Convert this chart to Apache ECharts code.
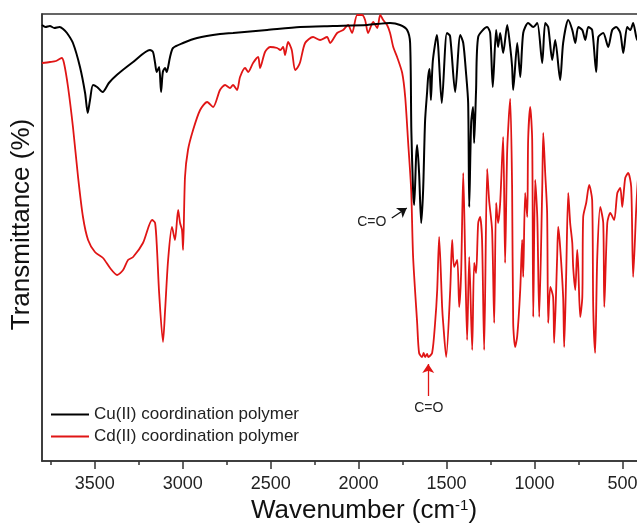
<!DOCTYPE html>
<html>
<head>
<meta charset="utf-8">
<script src="https://cdn.jsdelivr.net/npm/echarts@6/dist/echarts.min.js"></script>
<style>html,body{margin:0;padding:0;background:#fff}#c{width:637px;height:525px}</style>
</head>
<body>
<div id="c"></div>
<script>
// Wavenumber ticks (cm^-1)
const majorTicks = [3500, 3000, 2500, 2000, 1500, 1000, 500];
const minorTicks = [3750, 3250, 2750, 2250, 1750, 1250, 750];

// Cu(II) coordination polymer (black)
const cuWavenumber = [3800,3780,3755,3730,3700,3680,3658,3624,3584,3555,3540,3527,3510,3487,3455,3420,3375,3282,3186,3169,3157,3148,3134,3123,3113,3100,3091,3072,3055,2998,2918,2788,2714,2520,2332,2145,1951,1821,1764,1724,1707,1700,1690,1684,1673,1667,1656,1644,1633,1622,1610,1604,1596,1589,1578,1555,1527,1498,1480,1451,1422,1405,1390,1377,1371,1360,1349,1343,1332,1320,1269,1252,1237,1218,1207,1195,1178,1155,1138,1127,1121,1098,1081,1064,1036,1007,984,956,939,922,899,882,854,837,808,785,768,751,728,711,694,672,649,637,609,581,558,535,512,495,473,455,439,416,400];
const cuTransmittance = [436,434,435,433,434,432,428,418,394,368,348,361,376,374,369,378,386,399,411,409,398,389,394,369,389,393,389,404,413,418,423,427,428,431,434,435,436,438,436,431,418,330,270,256,304,316,288,238,271,340,370,385,392,361,400,426,358,428,425,369,426,418,390,358,254,338,354,318,371,424,434,428,374,431,414,428,408,436,414,394,371,418,384,428,438,434,438,398,438,434,401,421,381,418,441,431,418,434,431,421,434,431,389,424,428,414,431,434,428,408,434,431,438,421,430];

// Cd(II) coordination polymer (red)
const cdWavenumber = [3800,3755,3720,3688,3675,3652,3624,3595,3567,3538,3499,3453,3413,3373,3339,3311,3282,3226,3174,3157,3146,3134,3112,3100,3083,3061,3044,3026,3015,3004,2998,2987,2970,2941,2901,2861,2827,2788,2759,2731,2714,2691,2674,2645,2628,2600,2571,2560,2532,2503,2463,2445,2429,2418,2401,2380,2361,2345,2332,2304,2259,2219,2179,2162,2122,2088,2060,2037,2008,1980,1963,1946,1917,1894,1877,1860,1838,1821,1803,1781,1752,1735,1718,1701,1690,1667,1656,1639,1630,1622,1610,1604,1582,1565,1553,1542,1525,1519,1502,1479,1468,1457,1439,1428,1417,1405,1394,1383,1371,1354,1343,1332,1320,1309,1298,1286,1269,1258,1241,1229,1218,1207,1195,1178,1167,1155,1138,1127,1121,1110,1098,1081,1070,1064,1053,1041,1036,1024,1013,1007,996,984,973,956,950,939,928,922,910,894,888,871,865,854,837,831,820,808,797,785,780,768,757,751,740,728,723,706,689,672,666,655,643,626,609,603,586,569,547,529,512,501,484,467,450,439,421,410,400];
const cdTransmittance = [398,399,400,403,398,374,334,284,244,221,209,203,193,186,191,201,204,218,241,238,211,168,119,151,201,234,221,251,238,231,211,284,311,331,351,359,354,371,376,373,376,371,384,393,389,398,404,393,409,414,413,411,414,406,419,411,391,394,399,418,424,421,424,418,428,431,436,428,446,446,441,428,439,433,446,441,436,428,414,404,388,364,318,271,204,138,108,104,108,104,107,104,108,138,171,224,154,138,104,171,221,194,201,154,188,288,204,121,204,111,198,188,238,244,221,111,292,261,231,138,258,238,258,324,198,311,362,271,138,114,125,171,221,184,268,244,321,354,321,144,281,244,144,271,328,288,248,138,174,164,118,204,234,214,164,114,184,268,238,218,194,171,211,194,144,164,244,258,276,261,154,108,204,254,238,154,238,248,241,268,273,254,283,288,274,184,254,285,290];

// Annotations: [wavenumber, transmittance]
const cuLabelAt = [1925, 239];
const cuArrow = [[1811, 243], [1726, 253]];
const cdLabelAt = [1601, 53];
const cdArrow = [[1604, 65], [1604, 97]];

const FONT = '"Liberation Sans", Arial, sans-serif';
const zip = (a, b) => a.map((x, i) => [x, b[i]]);

const chart = echarts.init(document.getElementById('c'), null, {renderer: 'canvas'});
chart.setOption({
  animation: false,
  backgroundColor: '#fff',
  textStyle: {fontFamily: FONT},
  grid: {left: 42, right: -3, top: 14, bottom: 64, show: true, borderColor: '#333', borderWidth: 1.5,
         containLabel: false, outerBoundsMode: 'none'},
  legend: {
    orient: 'vertical', left: 46, top: 401, itemWidth: 38, itemHeight: 2, itemGap: 5, icon: 'rect',
    textStyle: {fontSize: 17, color: '#222', fontFamily: FONT},
    data: ['Cu(II) coordination polymer', 'Cd(II) coordination polymer']
  },
  xAxis: [{
    type: 'value', inverse: true, min: 400, max: 3800,
    name: '{a|Wavenumber (cm}{s|-1}{a|)}', nameLocation: 'middle', nameGap: 37,
    nameTextStyle: {fontSize: 26, color: '#111', fontFamily: FONT, padding: [0, 0, 0, 46],
      rich: {a: {fontSize: 26, color: '#111', fontFamily: FONT}, s: {fontSize: 15, color: '#111', verticalAlign: 'top', fontFamily: FONT}}},
    axisLine: {show: true, lineStyle: {color: '#333', width: 1.5}},
    axisTick: {show: true, inside: false, length: 8, customValues: majorTicks, lineStyle: {color: '#333', width: 1.5}},
    axisLabel: {show: true, customValues: majorTicks, margin: 14, fontSize: 18, color: '#222', fontFamily: FONT,
      formatter: v => String(v)},
    splitLine: {show: false}
  }, {
    type: 'value', inverse: true, min: 400, max: 3800, position: 'bottom',
    axisLine: {show: false},
    axisTick: {show: true, inside: false, length: 4, customValues: minorTicks, lineStyle: {color: '#333', width: 1.5}},
    axisLabel: {show: false},
    splitLine: {show: false}
  }],
  yAxis: {
    type: 'value', min: 0, max: 447,
    name: 'Transmittance (%)', nameLocation: 'middle', nameGap: 7,
    nameTextStyle: {fontSize: 26, color: '#111', fontFamily: FONT, padding: [0, 0, 0, 26]},
    axisLine: {show: true, lineStyle: {color: '#333', width: 1.5}},
    axisTick: {show: false}, axisLabel: {show: false}, splitLine: {show: false}
  },
  series: [{
    name: 'Cu(II) coordination polymer', type: 'line', xAxisIndex: 0,
    data: zip(cuWavenumber, cuTransmittance), symbol: 'none', smooth: 0.25,
    lineStyle: {color: '#000', width: 2}, itemStyle: {color: '#000'}, z: 3,
    markPoint: {
      symbol: 'circle', symbolSize: 1, itemStyle: {color: 'rgba(0,0,0,0)'},
      label: {show: true, position: 'inside', formatter: '{b}', fontSize: 14, color: '#222', fontFamily: FONT},
      data: [{name: 'C=O', coord: cuLabelAt}]
    },
    markLine: {
      silent: true, symbol: ['none', 'arrow'], symbolSize: 9,
      lineStyle: {color: '#111', width: 1.3, type: 'solid'}, label: {show: false},
      data: [[{coord: cuArrow[0]}, {coord: cuArrow[1]}]]
    }
  }, {
    name: 'Cd(II) coordination polymer', type: 'line', xAxisIndex: 0,
    data: zip(cdWavenumber, cdTransmittance), symbol: 'none', smooth: 0.25,
    lineStyle: {color: '#e01515', width: 1.8}, itemStyle: {color: '#e01515'}, z: 2,
    markPoint: {
      symbol: 'circle', symbolSize: 1, itemStyle: {color: 'rgba(0,0,0,0)'},
      label: {show: true, position: 'inside', formatter: '{b}', fontSize: 14, color: '#222', fontFamily: FONT},
      data: [{name: 'C=O', coord: cdLabelAt}]
    },
    markLine: {
      silent: true, symbol: ['none', 'arrow'], symbolSize: 9,
      lineStyle: {color: '#e01515', width: 1.3, type: 'solid'}, label: {show: false},
      data: [[{coord: cdArrow[0]}, {coord: cdArrow[1]}]]
    }
  }]
});
</script>
</body>
</html>
